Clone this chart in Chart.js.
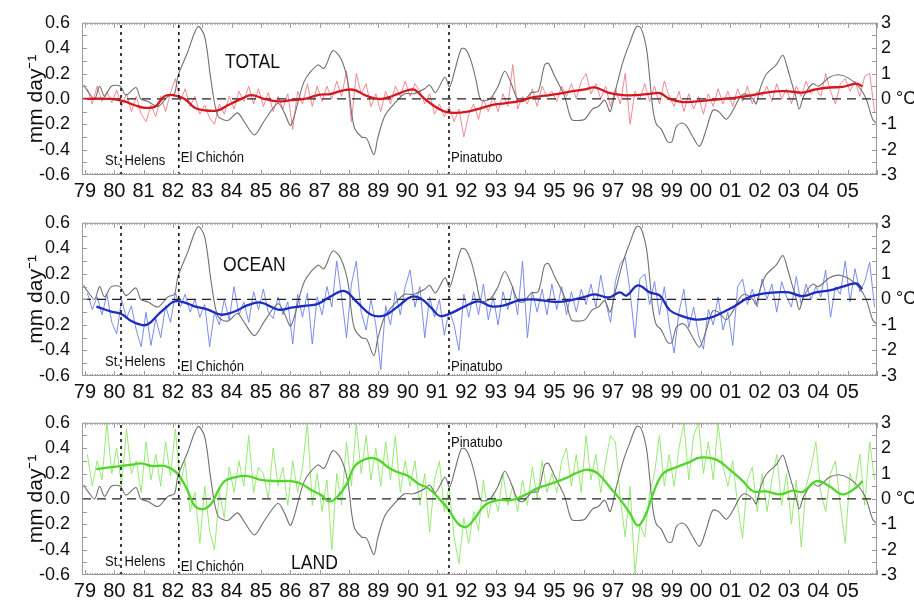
<!DOCTYPE html>
<html>
<head>
<meta charset="utf-8">
<script src="https://cdn.jsdelivr.net/npm/chart.js@4.4.1/dist/chart.umd.min.js"></script>
<style>
  body { margin: 0; background: #fff; }
  #wrap { position: relative; width: 914px; height: 603px; }
  canvas { position: absolute; left: 0; }
</style>
</head>
<body>
<div id="wrap">
  <canvas id="total" width="914" height="200" style="top:0"></canvas>
  <canvas id="ocean" width="914" height="200" style="top:200px"></canvas>
  <canvas id="land" width="914" height="203" style="top:400px"></canvas>
</div>
<script>
// tick labels
const yearTicks = [1979, 1980, 1981, 1982, 1983, 1984, 1985, 1986, 1987, 1988, 1989, 1990, 1991,
  1992, 1993, 1994, 1995, 1996, 1997, 1998, 1999, 2000, 2001, 2002, 2003, 2004, 2005];
const mmTicks = [-0.6, -0.4, -0.2, 0, 0.2, 0.4, 0.6];
const degTicks = [-3, -2, -1, 0, 1, 2, 3];

const volcanoNames = ['St. Helens', 'El Chichón', 'Pinatubo'];
const volcanoYears = [1980.23, 1982.2, 1991.41];

// Nino index, deg C  [year, value]
const nino = [
  [1978.95, 0.55], [1979.1, 0.3], [1979.33, 0.0], [1979.5, 0.5], [1979.67, 0.1], [1979.9, 0.5],
  [1980.2, 0.5], [1980.4, 0.15], [1980.74, 0.45], [1980.9, 0.0], [1981.15, -0.1], [1981.49, -0.3],
  [1981.83, 0.1], [1982.05, 0.2], [1982.17, 0.9], [1982.5, 1.84], [1982.85, 2.85], [1983.08, 2.47],
  [1983.3, 0.71], [1983.53, -0.66], [1983.87, -0.85], [1984.2, -0.55], [1984.44, -0.92], [1984.78, -1.42],
  [1985.12, -0.85], [1985.58, -0.17], [1985.8, -0.55], [1986.02, -1.04], [1986.48, 0.7], [1986.94, 1.34],
  [1987.15, 1.2], [1987.45, 1.9], [1987.72, 1.6], [1987.96, 0.7], [1988.09, -0.55], [1988.2, -1.18],
  [1988.43, -1.5], [1988.6, -1.55], [1988.85, -2.2], [1988.98, -1.55], [1989.22, -0.67], [1989.56, -0.17],
  [1989.9, 0.2], [1990.2, 0.2], [1990.58, 0.4], [1990.75, 0.55], [1990.95, 0.25], [1991.27, 0.85],
  [1991.43, 0.47], [1991.6, 1.09], [1991.83, 1.98], [1991.98, 1.95], [1992.17, 1.47], [1992.34, 0.7],
  [1992.5, -0.05], [1992.8, 0.0], [1993.07, 0.47], [1993.31, 1.09], [1993.54, 0.58], [1993.76, -0.05],
  [1993.95, -0.1], [1994.22, 0.25], [1994.45, 0.3], [1994.67, 1.34], [1994.8, 1.4], [1995.01, 0.9],
  [1995.35, 0.1], [1995.58, -0.8], [1995.8, -0.85], [1996.04, -0.8], [1996.3, -0.4], [1996.5, -0.3],
  [1996.72, -0.05], [1996.9, -0.5], [1997.1, 0.4], [1997.34, 1.46], [1997.57, 2.2], [1997.8, 2.85],
  [1997.95, 2.8], [1998.14, 2.0], [1998.25, 0.85], [1998.36, -0.4], [1998.48, -1.0], [1998.65, -1.2],
  [1998.86, -1.68], [1999.0, -1.7], [1999.16, -1.1], [1999.35, -0.95], [1999.5, -1.05], [1999.7, -1.45],
  [1999.95, -1.87], [2000.18, -1.2], [2000.4, -0.45], [2000.6, -0.5], [2000.86, -0.8], [2001.09, -0.45],
  [2001.32, 0.05], [2001.5, 0.2], [2001.77, 0.0], [2001.88, -0.2], [2002.0, 0.35], [2002.22, 0.96],
  [2002.56, 1.34], [2002.79, 1.72], [2002.95, 1.2], [2003.1, 0.6], [2003.23, 0.1], [2003.35, -0.4],
  [2003.5, 0.1], [2003.8, 0.6], [2004.0, 0.5], [2004.38, 0.85], [2004.7, 0.95], [2005.06, 0.8],
  [2005.4, 0.45], [2005.63, 0.0], [2005.85, -0.8], [2005.97, -0.95]
];

// two-monthly anomalies, mm/day, one row per year 1979..2005
const totalRaw = [
  0.08, -0.04, 0.10, -0.02, 0.06, -0.03,
  0.07, -0.06, 0.04, -0.10, 0.02, -0.12,
  -0.18, -0.05, -0.14, 0.02, -0.10, 0.05,
  0.16, -0.02, 0.08, -0.06, 0.02, -0.12,
  -0.05, -0.15, -0.20, -0.04, -0.12, 0.02,
  -0.08, 0.06, -0.02, 0.10, -0.04, 0.08,
  -0.06, 0.05, -0.10, 0.02, -0.08, 0.04,
  -0.24, 0.06, -0.04, 0.12, -0.06, 0.10,
  -0.02, 0.10, 0.00, 0.14, 0.02, 0.22,
  -0.18, 0.20, 0.04, 0.12, -0.06, 0.04,
  -0.10, 0.06, -0.04, 0.10, 0.02, 0.14,
  0.02, 0.12, 0.06, -0.04, 0.04, -0.12,
  -0.04, -0.14, -0.06, -0.18, -0.08, -0.30,
  -0.12, -0.04, -0.16, 0.00, -0.10, 0.02,
  -0.10, 0.04, -0.06, 0.27, -0.08, 0.02,
  -0.04, 0.08, -0.06, 0.10, 0.02, 0.06,
  -0.02, 0.10, 0.02, 0.12, 0.00, 0.14,
  0.20, 0.04, 0.12, 0.00, 0.10, -0.06,
  0.08, -0.04, 0.20, -0.20, 0.06, 0.00,
  0.12, -0.02, 0.10, -0.04, 0.14, 0.02,
  -0.06, 0.06, -0.10, 0.04, -0.08, 0.02,
  -0.12, 0.04, -0.06, 0.08, -0.04, 0.06,
  -0.06, 0.08, -0.02, 0.10, -0.04, 0.06,
  0.02, 0.10, -0.02, 0.12, 0.00, 0.08,
  -0.04, 0.10, 0.02, 0.14, 0.04, 0.08,
  0.02, 0.20, 0.06, -0.04, 0.12, 0.16,
  0.06, 0.14, 0.02, 0.18, 0.20, -0.10
];
const oceanRaw = [
  0.05, -0.08, 0.02, -0.12, 0.04, -0.18,
  -0.27, 0.00, -0.15, -0.05, -0.24, -0.37,
  -0.10, -0.36, -0.15, -0.30, -0.05, -0.18,
  0.05, -0.06, 0.04, -0.10, 0.00, -0.14,
  -0.04, -0.37, -0.10, -0.20, 0.00, -0.16,
  0.10, -0.12, -0.02, -0.18, 0.06, -0.08,
  0.08, -0.10, -0.15, 0.02, -0.12, -0.02,
  -0.35, 0.04, -0.14, 0.05, -0.35, 0.02,
  -0.12, 0.10, -0.06, 0.30, 0.02, -0.30,
  0.12, 0.30, -0.10, -0.24, 0.00, -0.20,
  -0.55, -0.05, -0.20, 0.06, -0.12, 0.10,
  0.23, -0.06, 0.10, -0.30, 0.02, -0.14,
  0.00, -0.28, -0.08, -0.20, -0.40, 0.04,
  -0.14, 0.06, -0.12, 0.12, -0.16, 0.02,
  -0.20, 0.06, -0.08, 0.10, -0.12, 0.30,
  -0.30, 0.06, -0.10, 0.08, -0.12, 0.12,
  -0.08, 0.10, -0.12, 0.06, -0.10, 0.08,
  -0.04, 0.12, -0.06, 0.19, -0.02, -0.18,
  0.14, 0.28, 0.33, 0.06, -0.30, 0.16,
  0.20, -0.04, 0.14, -0.12, 0.10, -0.20,
  -0.42, -0.10, 0.08, -0.22, -0.06, -0.28,
  -0.39, -0.08, -0.20, 0.02, -0.24, -0.10,
  -0.36, 0.10, 0.16, -0.04, 0.08, -0.06,
  0.16, 0.00, 0.12, -0.10, 0.14, 0.02,
  -0.06, 0.18, -0.04, 0.12, 0.00, 0.10,
  0.02, 0.23, -0.14, 0.10, 0.04, 0.30,
  -0.02, 0.24, 0.06, 0.14, 0.29, -0.06
];
const landRaw = [
  0.35, 0.10, 0.30, 0.15, 0.60, 0.20,
  0.40, 0.10, 0.55, 0.20, 0.30, 0.05,
  0.45, 0.15, 0.35, 0.10, 0.45, 0.18,
  0.55, 0.10, 0.30, -0.10, 0.05, -0.35,
  0.10, -0.25, -0.40, 0.05, -0.15, 0.25,
  0.05, 0.30, 0.10, 0.50, 0.05, 0.25,
  0.20, 0.00, 0.40, 0.10, 0.25, -0.05,
  0.30, 0.05, 0.25, 0.60, -0.05, 0.20,
  -0.10, 0.15, -0.40, 0.20, -0.05, 0.45,
  0.10, 0.60, 0.20, 0.50, 0.15, 0.40,
  0.10, 0.45, 0.15, 0.50, 0.05, 0.30,
  0.10, 0.30, -0.05, 0.20, -0.26, 0.15,
  0.30, -0.10, 0.10, -0.30, -0.51, -0.15,
  -0.35, -0.10, -0.25, 0.15, -0.15, 0.05,
  -0.10, 0.20, -0.05, 0.10, -0.10, 0.15,
  -0.05, 0.25, 0.00, 0.30, 0.05, 0.20,
  0.05, 0.30, 0.40, 0.10, 0.35, 0.05,
  0.50, 0.15, 0.35, 0.05, 0.30, 0.50,
  0.45, 0.00, -0.30, 0.10, -0.59, -0.20,
  -0.30, 0.05, 0.20, 0.50, 0.10, 0.35,
  0.10, 0.40, 0.60, 0.15, 0.50, 0.60,
  0.20, 0.45, 0.15, 0.60, 0.25, 0.10,
  0.30, -0.05, -0.31, 0.15, 0.25, -0.10,
  0.20, -0.10, 0.15, 0.35, -0.05, 0.20,
  -0.20, 0.15, -0.38, 0.10, 0.25, 0.45,
  0.05, -0.10, 0.20, 0.30, -0.05, -0.35,
  0.20, 0.10, 0.35, -0.05, 0.45, 0.15
];

// running means, mm/day  [year, value]
const totalSmooth = [
  [1978.95, 0.0], [1979.9, 0.0], [1980.35, -0.02], [1980.7, -0.05], [1981.03, -0.07], [1981.4, -0.06],
  [1981.7, 0.02], [1982.0, 0.03], [1982.4, 0.0], [1982.74, -0.07], [1983.08, -0.09], [1983.53, -0.09],
  [1983.87, -0.05], [1984.33, 0.0], [1984.67, 0.03], [1985.12, 0.0], [1985.58, -0.02], [1986.03, -0.01],
  [1986.48, 0.0], [1986.94, 0.03], [1987.39, 0.04], [1987.85, 0.07], [1988.2, 0.07], [1988.54, 0.03],
  [1988.99, 0.0], [1989.3, 0.01], [1989.67, 0.04], [1990.02, 0.07], [1990.25, 0.07], [1990.58, 0.0],
  [1990.93, -0.06], [1991.27, -0.1], [1991.6, -0.11], [1992.05, -0.1], [1992.4, -0.08], [1992.86, -0.05],
  [1993.31, -0.035], [1993.76, -0.02], [1994.22, 0.01], [1994.67, 0.025], [1995.13, 0.04], [1995.58, 0.06],
  [1996.04, 0.075], [1996.38, 0.09], [1996.83, 0.05], [1997.34, 0.03], [1997.8, 0.03], [1998.25, 0.04],
  [1998.6, 0.045], [1998.93, 0.0], [1999.38, -0.025], [1999.84, -0.02], [2000.3, -0.01], [2000.75, 0.0],
  [2001.2, 0.01], [2001.66, 0.025], [2002.11, 0.045], [2002.57, 0.06], [2003.0, 0.06], [2003.47, 0.05],
  [2003.91, 0.075], [2004.38, 0.09], [2004.83, 0.095], [2005.29, 0.12], [2005.5, 0.1]
];
const oceanSmooth = [
  [1979.39, -0.057], [1979.9, -0.095], [1980.24, -0.115], [1980.58, -0.17], [1980.92, -0.2], [1981.15, -0.195],
  [1981.49, -0.12], [1981.83, -0.05], [1982.06, -0.015], [1982.4, -0.025], [1982.74, -0.055], [1983.19, -0.08],
  [1983.64, -0.12], [1984.1, -0.095], [1984.55, -0.045], [1985.0, -0.025], [1985.58, -0.08], [1986.03, -0.065],
  [1986.48, -0.05], [1986.94, -0.035], [1987.39, 0.025], [1987.85, 0.065], [1988.31, -0.03], [1988.76, -0.12],
  [1989.22, -0.125], [1989.67, -0.055], [1990.12, 0.02], [1990.46, 0.005], [1990.8, -0.065], [1991.1, -0.13],
  [1991.5, -0.105], [1991.95, -0.055], [1992.4, -0.015], [1992.86, -0.055], [1993.31, -0.045], [1993.76, -0.01],
  [1994.22, 0.0], [1994.67, -0.01], [1995.13, -0.02], [1995.58, -0.005], [1996.04, 0.02], [1996.38, 0.04],
  [1996.85, 0.015], [1997.23, 0.055], [1997.46, 0.03], [1997.85, 0.11], [1998.25, 0.055], [1998.6, 0.03],
  [1998.93, -0.083], [1999.38, -0.133], [1999.84, -0.158], [2000.3, -0.145], [2000.75, -0.1], [2001.2, -0.045],
  [2001.66, 0.02], [2002.11, 0.045], [2002.57, 0.055], [2003.0, 0.055], [2003.47, 0.025], [2003.91, 0.055],
  [2004.38, 0.07], [2004.83, 0.1], [2005.29, 0.125], [2005.5, 0.08]
];
const landSmooth = [
  [1979.39, 0.235], [1979.9, 0.25], [1980.24, 0.26], [1980.58, 0.27], [1980.92, 0.28], [1981.26, 0.26],
  [1981.71, 0.26], [1982.06, 0.22], [1982.28, 0.16], [1982.51, 0.06], [1982.74, -0.055], [1983.02, -0.08],
  [1983.3, -0.04], [1983.53, 0.06], [1983.76, 0.14], [1984.1, 0.17], [1984.55, 0.18], [1985.0, 0.15],
  [1985.58, 0.14], [1986.03, 0.14], [1986.37, 0.12], [1986.71, 0.07], [1987.05, 0.03], [1987.33, -0.02],
  [1987.62, 0.02], [1987.93, 0.12], [1988.2, 0.26], [1988.65, 0.32], [1988.99, 0.31], [1989.33, 0.25],
  [1989.67, 0.21], [1990.02, 0.18], [1990.36, 0.12], [1990.7, 0.085], [1991.04, 0.01], [1991.38, -0.08],
  [1991.72, -0.195], [1992.0, -0.22], [1992.3, -0.15], [1992.63, -0.05], [1993.09, -0.01], [1993.54, -0.01],
  [1993.99, 0.03], [1994.44, 0.085], [1994.9, 0.12], [1995.35, 0.16], [1995.81, 0.21], [1996.15, 0.23],
  [1996.49, 0.2], [1996.9, 0.09], [1997.23, 0.0], [1997.57, -0.11], [1997.85, -0.21], [1998.14, -0.11],
  [1998.37, 0.045], [1998.71, 0.2], [1999.16, 0.25], [1999.61, 0.29], [1999.95, 0.325], [2000.52, 0.31],
  [2000.98, 0.23], [2001.43, 0.14], [2001.77, 0.06], [2002.22, 0.06], [2002.68, 0.035], [2003.13, 0.065],
  [2003.47, 0.055], [2003.93, 0.14], [2004.38, 0.1], [2004.83, 0.035], [2005.29, 0.09], [2005.5, 0.14]
];

const font = "'Liberation Sans', Arial, Helvetica, sans-serif";

// text squeezed sideways, the figure uses a condensed face
const narrowText = (ctx, text, x, y, size, squeeze) => {
  ctx.save();
  ctx.translate(x, y);
  ctx.scale(squeeze, 1);
  ctx.font = `${size}px ${font}`;
  ctx.fillText(text, 0, 0);
  ctx.restore();
};

// frame with inside ticks, panel name and volcano names
const panelText = {
  id: 'panelText',
  afterDatasetsDraw(chart, args, o) {
    const { ctx, chartArea: a, scales: { x, y } } = chart;
    ctx.save();
    ctx.strokeStyle = '#9a9a9a';
    ctx.lineWidth = 1;
    ctx.strokeRect(a.left + 0.5, a.top + 0.5, a.right - a.left - 1, a.bottom - a.top - 1);
    ctx.beginPath();
    for (let m = 0; m <= 27 * 12; m++) {
      const px = Math.round(x.getPixelForValue(1979 + m / 12)) + 0.5;
      const len = m % 12 === 0 ? 5 : 2;
      ctx.moveTo(px, a.top); ctx.lineTo(px, a.top + len);
      ctx.moveTo(px, a.bottom); ctx.lineTo(px, a.bottom - len);
    }
    for (let k = -5; k <= 5; k++) {
      const py = Math.round(y.getPixelForValue(k / 10)) + 0.5;
      ctx.moveTo(a.left, py); ctx.lineTo(a.left + 5, py);
      ctx.moveTo(a.right, py); ctx.lineTo(a.right - 5, py);
    }
    ctx.stroke();

    ctx.fillStyle = '#111';
    ctx.textBaseline = 'alphabetic';
    narrowText(ctx, o.title, a.left + o.titleX, a.top + o.titleY, 20, 0.88);
    volcanoNames.forEach((name, i) => {
      narrowText(ctx, name, x.getPixelForValue(volcanoYears[i]) + o.nameDx[i], a.top + o.nameY[i], 15, 0.87);
    });
    ctx.restore();
  }
};

const makePanel = (id, p) => {
  const canvas = document.getElementById(id);
  const rawPts = p.raw.map((v, i) => ({ x: 1979 + (i + 0.5) / 6, y: v }));
  const smoothPts = p.smooth.map(([x, y]) => ({ x, y }));
  const ninoPts = nino.map(([x, y]) => ({ x, y }));
  const volcanoSets = volcanoYears.map(v => ({
    data: [{ x: v, y: -0.6 }, { x: v, y: 0.6 }],
    borderColor: '#111', borderWidth: 1.6, borderDash: [3, 4]
  }));

  new Chart(canvas, {
    type: 'line',
    data: {
      datasets: [
        ...volcanoSets,
        { data: smoothPts, borderColor: p.dark, borderWidth: 2.3, tension: 0.4 },
        { data: [{ x: 1978.9, y: 0 }, { x: 2006, y: 0 }], borderColor: '#222', borderWidth: 1.3, borderDash: [9, 6] },
        { data: ninoPts, yAxisID: 'y2', borderColor: '#707070', borderWidth: 1.1, tension: 0.3 },
        { data: rawPts, borderColor: p.light, borderWidth: 1 }
      ]
    },
    options: {
      responsive: false,
      animation: false,
      layout: { padding: { top: p.top, left: 0, right: 0, bottom: 0 } },
      elements: { point: { radius: 0 }, line: { fill: false, borderJoinStyle: 'round' } },
      plugins: {
        legend: { display: false },
        tooltip: { enabled: false },
        panelText: p.text
      },
      scales: {
        x: {
          type: 'linear', min: 1978.9, max: 2006,
          grid: { display: false, drawTicks: false }, border: { display: false },
          afterBuildTicks: s => { s.ticks = yearTicks.map(value => ({ value })); },
          afterFit: s => { s.height = p.axisH; },
          ticks: {
            font: { family: font, size: 20 }, color: '#111', padding: 4,
            maxRotation: 0, autoSkip: false, callback: v => String(v).slice(2)
          }
        },
        y: {
          position: 'left', min: -0.6, max: 0.6,
          grid: { display: false, drawTicks: false }, border: { display: false },
          afterBuildTicks: s => { s.ticks = mmTicks.map(value => ({ value })); },
          afterFit: s => { s.width = 82; },
          title: {
            display: true, text: 'mm day⁻¹', color: '#111',
            font: { family: font, size: 21 }, padding: { top: 24, bottom: 0 }
          },
          ticks: { font: { family: font, size: 18 }, color: '#111', padding: 12, callback: v => v.toFixed(1) }
        },
        y2: {
          position: 'right', min: -3, max: 3,
          grid: { display: false, drawTicks: false }, border: { display: false },
          afterBuildTicks: s => { s.ticks = degTicks.map(value => ({ value })); },
          afterFit: s => { s.width = 37; },
          ticks: { font: { family: font, size: 18 }, color: '#111', padding: 4, callback: v => v === 0 ? '0 °C' : String(v) }
        }
      }
    },
    plugins: [panelText]
  });
};

makePanel('total', {
  raw: totalRaw, smooth: totalSmooth, light: 'rgba(240,118,128,0.85)', dark: '#d5161f',
  top: 15, axisH: 25,
  text: { title: 'TOTAL', titleX: 143, titleY: 45, nameDx: [-16, 2, 2], nameY: [142, 139, 139] }
});
makePanel('ocean', {
  raw: oceanRaw, smooth: oceanSmooth, light: 'rgba(110,128,236,0.9)', dark: '#1c2cc2',
  top: 16, axisH: 24,
  text: { title: 'OCEAN', titleX: 141, titleY: 48, nameDx: [-16, 2, 2], nameY: [143, 148, 148] }
});
makePanel('land', {
  raw: landRaw, smooth: landSmooth, light: 'rgba(140,232,100,0.9)', dark: '#4ed628',
  top: 17, axisH: 28,
  text: { title: 'LAND', titleX: 209, titleY: 146, nameDx: [-16, 2, 2], nameY: [143, 148, 24] }
});
</script>
</body>
</html>
